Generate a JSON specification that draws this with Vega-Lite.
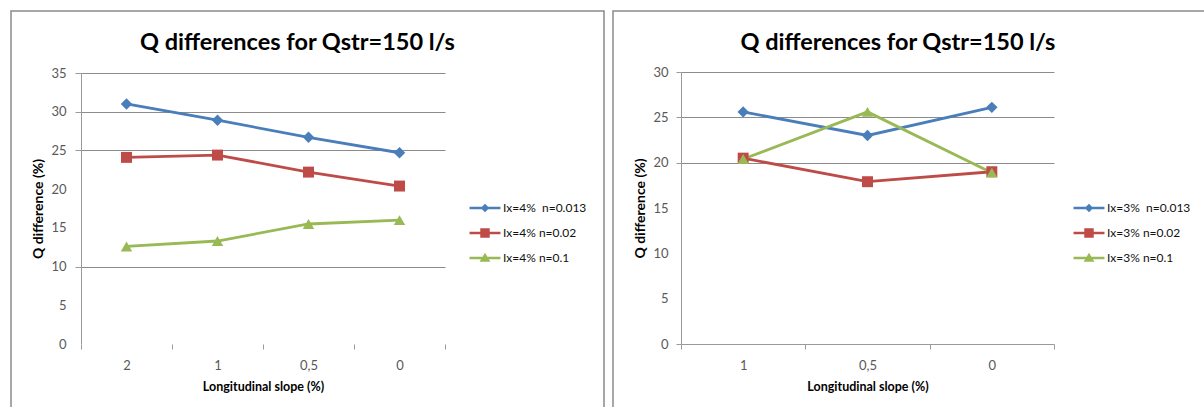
{
  "$schema": "https://vega.github.io/schema/vega-lite/v6.json",
  "padding": {"left": 10, "top": 10, "right": 0, "bottom": 0},
  "background": "white",
  "spacing": 7,
  "config": {
    "font": "Lato",
    "view": {"stroke": "#8a8a8a", "strokeWidth": 1.5},
    "axis": {
      "labelFont": "Lato",
      "labelFontSize": 13,
      "labelColor": "#595959",
      "titleFont": "Lato",
      "titleFontSize": 12.5,
      "titleFontWeight": "bold",
      "titleColor": "#000000",
      "domainColor": "#9a9a9a",
      "tickColor": "#9a9a9a",
      "gridColor": "#8c8c8c",
      "gridWidth": 1
    },
    "axisY": {"titleFontSize": 14},
    "legend": {
      "orient": "none",
      "labelFont": "Lato",
      "labelFontSize": 12,
      "labelColor": "#111111",
      "symbolSize": 81,
      "symbolStrokeWidth": 0,
      "labelOffset": 12,
      "rowPadding": 13,
      "padding": 0
    },
    "title": {"font": "Lato", "fontSize": 23.5, "fontWeight": "bold", "color": "#000000"}
  },
  "datasets": {
    "slope4": [
      {"slope": "2", "series": "Ix=4%\u00a0 n=0.013", "q": 31.0},
      {"slope": "1", "series": "Ix=4%\u00a0 n=0.013", "q": 28.9},
      {"slope": "0,5", "series": "Ix=4%\u00a0 n=0.013", "q": 26.7},
      {"slope": "0", "series": "Ix=4%\u00a0 n=0.013", "q": 24.7},
      {"slope": "2", "series": "Ix=4% n=0.02", "q": 24.1},
      {"slope": "1", "series": "Ix=4% n=0.02", "q": 24.4},
      {"slope": "0,5", "series": "Ix=4% n=0.02", "q": 22.2},
      {"slope": "0", "series": "Ix=4% n=0.02", "q": 20.4},
      {"slope": "2", "series": "Ix=4% n=0.1", "q": 12.6},
      {"slope": "1", "series": "Ix=4% n=0.1", "q": 13.3},
      {"slope": "0,5", "series": "Ix=4% n=0.1", "q": 15.5},
      {"slope": "0", "series": "Ix=4% n=0.1", "q": 16.0}
    ],
    "slope3": [
      {"slope": "1", "series": "Ix=3%\u00a0 n=0.013", "q": 25.6},
      {"slope": "0,5", "series": "Ix=3%\u00a0 n=0.013", "q": 23.0},
      {"slope": "0", "series": "Ix=3%\u00a0 n=0.013", "q": 26.1},
      {"slope": "1", "series": "Ix=3% n=0.02", "q": 20.5},
      {"slope": "0,5", "series": "Ix=3% n=0.02", "q": 17.9},
      {"slope": "0", "series": "Ix=3% n=0.02", "q": 19.0},
      {"slope": "1", "series": "Ix=3% n=0.1", "q": 20.4},
      {"slope": "0,5", "series": "Ix=3% n=0.1", "q": 25.6},
      {"slope": "0", "series": "Ix=3% n=0.1", "q": 18.9}
    ]
  },
  "hconcat": [
    {
      "data": {"name": "slope4"},
      "width": 593,
      "height": 398,
      "title": {"text": "Q differences for Qstr=150 l/s", "offset": -62, "dx": -10, "baseline": "alphabetic"},
      "encoding": {
        "x": {
          "field": "slope", "type": "nominal", "sort": ["2", "1", "0,5", "0"],
          "scale": {"type": "band", "range": [70, 434], "paddingInner": 0, "paddingOuter": 0},
          "axis": {"title": "Longitudinal slope (%)", "labelAngle": 0, "tickBand": "extent", "offset": -65, "domain": false, "tickSize": 5, "labelPadding": 10, "titlePadding": 8}
        },
        "y": {
          "field": "q", "type": "quantitative",
          "scale": {"domain": [0, 35], "range": [333, 62], "nice": false},
          "axis": {
            "title": "Q difference (%)", "values": [0, 5, 10, 15, 20, 25, 30, 35],
            "offset": -70, "tickSize": 6, "labelPadding": 9, "titlePadding": 5, "grid": true,
            "gridOpacity": {"condition": {"test": "datum.value == 35 || datum.value == 30 || datum.value == 25 || datum.value == 10", "value": 1}, "value": 0},
            "tickOpacity": {"condition": {"test": "datum.value == 35 || datum.value == 30 || datum.value == 25 || datum.value == 10", "value": 1}, "value": 0}
          }
        },
        "color": {
          "field": "series", "type": "nominal",
          "scale": {"domain": ["Ix=4%\u00a0 n=0.013", "Ix=4% n=0.02", "Ix=4% n=0.1"], "range": ["#4A7EBB", "#BE4B48", "#98B954"]},
          "legend": {
            "title": null, "legendX": 468, "legendY": 191,
            "encode": {"symbols": {"update": {
              "shape": {"signal": "datum.index === 0 ? 'M-3.44,-0.28H3.44V0.28H-3.44ZM0,-0.95L0.95,0L0,0.95L-0.95,0Z' : datum.index === 1 ? 'M-3.44,-0.28H3.44V0.28H-3.44ZM-1.05,-1.05H1.05V1.05H-1.05Z' : 'M-3.44,-0.28H3.44V0.28H-3.44ZM0,-1.15L1.2,0.85H-1.2Z'"},
              "strokeWidth": {"value": 0}
            }}}
          }
        }
      },
      "layer": [
        {"mark": {"type": "line", "strokeWidth": 2.8}},
        {
          "transform": [{"filter": {"field": "series", "equal": "Ix=4%\u00a0 n=0.013"}}],
          "mark": {"type": "point", "shape": "diamond", "filled": true, "opacity": 1, "size": 130}
        },
        {
          "transform": [{"filter": {"field": "series", "equal": "Ix=4% n=0.02"}}],
          "mark": {"type": "point", "shape": "square", "filled": true, "opacity": 1, "size": 120}
        },
        {
          "transform": [{"filter": {"field": "series", "equal": "Ix=4% n=0.1"}}],
          "mark": {"type": "point", "shape": "triangle-up", "filled": true, "opacity": 1, "size": 130}
        }
      ]
    },
    {
      "data": {"name": "slope3"},
      "width": 594,
      "height": 398,
      "title": {"text": "Q differences for Qstr=150 l/s", "offset": -62, "dx": -12, "baseline": "alphabetic"},
      "encoding": {
        "x": {
          "field": "slope", "type": "nominal", "sort": ["1", "0,5", "0"],
          "scale": {"type": "band", "range": [68, 441], "paddingInner": 0, "paddingOuter": 0},
          "axis": {"title": "Longitudinal slope (%)", "labelAngle": 0, "tickBand": "extent", "offset": -65, "domain": true, "tickSize": 5, "labelPadding": 10, "titlePadding": 8}
        },
        "y": {
          "field": "q", "type": "quantitative",
          "scale": {"domain": [0, 30], "range": [333, 61], "nice": false},
          "axis": {
            "title": "Q difference (%)", "values": [0, 5, 10, 15, 20, 25, 30],
            "offset": -68, "tickSize": 5, "labelPadding": 8, "titlePadding": 5, "grid": true,
            "gridOpacity": {"condition": {"test": "datum.value == 30 || datum.value == 25 || datum.value == 20", "value": 1}, "value": 0},
            "tickOpacity": {"condition": {"test": "datum.value == 30 || datum.value == 25 || datum.value == 20 || datum.value == 0", "value": 1}, "value": 0}
          }
        },
        "color": {
          "field": "series", "type": "nominal",
          "scale": {"domain": ["Ix=3%\u00a0 n=0.013", "Ix=3% n=0.02", "Ix=3% n=0.1"], "range": ["#4A7EBB", "#BE4B48", "#98B954"]},
          "legend": {
            "title": null, "legendX": 470, "legendY": 191,
            "encode": {"symbols": {"update": {
              "shape": {"signal": "datum.index === 0 ? 'M-3.44,-0.28H3.44V0.28H-3.44ZM0,-0.95L0.95,0L0,0.95L-0.95,0Z' : datum.index === 1 ? 'M-3.44,-0.28H3.44V0.28H-3.44ZM-1.05,-1.05H1.05V1.05H-1.05Z' : 'M-3.44,-0.28H3.44V0.28H-3.44ZM0,-1.15L1.2,0.85H-1.2Z'"},
              "strokeWidth": {"value": 0}
            }}}
          }
        }
      },
      "layer": [
        {"mark": {"type": "line", "strokeWidth": 2.8}},
        {
          "transform": [{"filter": {"field": "series", "equal": "Ix=3%\u00a0 n=0.013"}}],
          "mark": {"type": "point", "shape": "diamond", "filled": true, "opacity": 1, "size": 130}
        },
        {
          "transform": [{"filter": {"field": "series", "equal": "Ix=3% n=0.02"}}],
          "mark": {"type": "point", "shape": "square", "filled": true, "opacity": 1, "size": 120}
        },
        {
          "transform": [{"filter": {"field": "series", "equal": "Ix=3% n=0.1"}}],
          "mark": {"type": "point", "shape": "triangle-up", "filled": true, "opacity": 1, "size": 130}
        }
      ]
    }
  ],
  "resolve": {
    "scale": {"color": "independent"},
    "legend": {"color": "independent"}
  }
}
